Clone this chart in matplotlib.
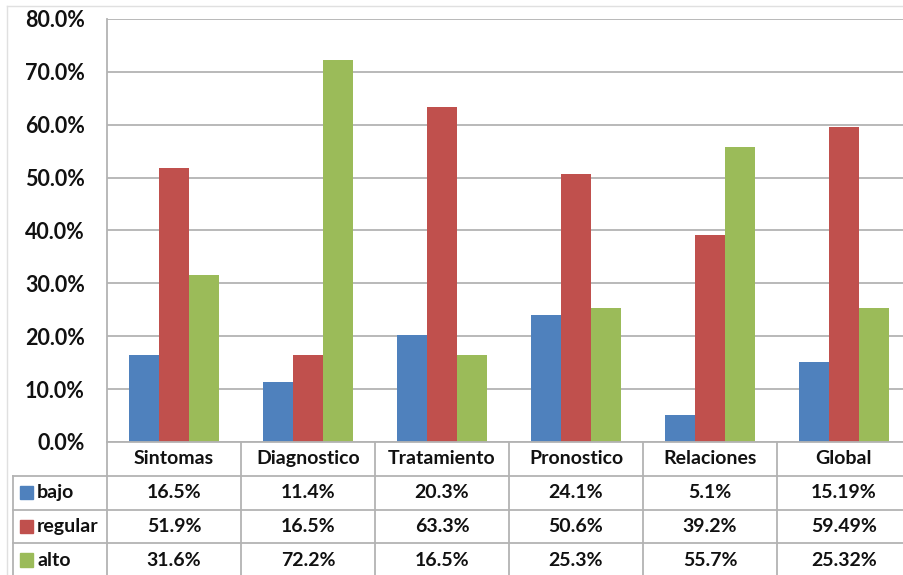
import numpy as np
import matplotlib.pyplot as plt
from matplotlib.patches import Rectangle

categories = ['Sintomas', 'Diagnostico', 'Tratamiento', 'Pronostico', 'Relaciones', 'Global']
series = ['bajo', 'regular', 'alto']
bajo = [16.5, 11.4, 20.3, 24.1, 5.1, 15.19]
regular = [51.9, 16.5, 63.3, 50.6, 39.2, 59.49]
alto = [31.6, 72.2, 16.5, 25.3, 55.7, 25.32]
decimals = [1, 1, 1, 1, 1, 2]
yticks = [0, 10, 20, 30, 40, 50, 60, 70, 80]

colors = ['#4F81BD', '#C0504D', '#9BBB59']
grid_c = '#b3b3b3'
txt_c = '#111111'
plt.rcParams['font.family'] = ['Lato', 'DejaVu Sans']
fs_tick = 15.5
fs = 14

W, H = 904, 575
fig = plt.figure(figsize=(W / 100, H / 100), dpi=100)

# pixel layout
x0, x1 = 107, 911
y_top, y_zero = 19, 442
tab_left = 13

ax = fig.add_axes([x0 / W, 1 - y_zero / H, (x1 - x0) / W, (y_zero - y_top) / H])
x = np.arange(len(categories))
bw = 0.224
for k, vals in enumerate([bajo, regular, alto]):
    ax.bar(x + (k - 1) * bw, vals, bw, color=colors[k], zorder=3)
ax.set_xlim(-0.5, len(categories) - 0.5)
ax.set_ylim(0, 80)
ax.set_yticks(yticks)
ax.set_yticklabels(['%.1f%%' % v for v in yticks], fontsize=fs_tick, fontweight='bold', color=txt_c)
ax.tick_params(axis='y', length=0, pad=16)
ax.set_xticks([])
ax.grid(axis='y', color=grid_c, lw=1.3, zorder=0)
for s in ['top', 'right', 'bottom']:
    ax.spines[s].set_visible(False)
ax.spines['left'].set_color(grid_c)
ax.spines['left'].set_linewidth(1.3)

# data table below the chart
tab = fig.add_axes([x0 / W, -2 / H, (x1 - x0) / W, (H - y_zero + 2) / H])
tab.set_xlim(-0.5, len(categories) - 0.5)
tab.set_ylim(4, 0)
tab.axis('off')
xl = -0.5 - (x0 - tab_left) / 134.0
lk = dict(color=grid_c, lw=1.3, clip_on=False)
tab.plot([-0.5, len(categories) - 0.5], [0, 0], **lk)
for r in [1, 2, 3]:
    tab.plot([xl, len(categories) - 0.5], [r, r], **lk)
tab.plot([xl, xl], [1, 4], **lk)
for b in np.arange(len(categories) + 1) - 0.5:
    tab.plot([b, b], [0, 4], **lk)

for i, c in enumerate(categories):
    tab.text(i, 0.5, c, ha='center', va='center', fontsize=fs, fontweight='bold', color=txt_c)
for k, vals in enumerate([bajo, regular, alto]):
    yc = k + 1.5
    for i, v in enumerate(vals):
        tab.text(i, yc, '%.*f%%' % (decimals[i], v), ha='center', va='center',
                 fontsize=fs, fontweight='bold', color=txt_c)
    tab.add_patch(Rectangle((xl + 7 / 134.0, yc - 0.2), 13 / 134.0, 0.4,
                            color=colors[k], clip_on=False))
    tab.text(xl + 24 / 134.0, yc, series[k], ha='left', va='center',
             fontsize=fs, fontweight='bold', color=txt_c, clip_on=False)

# faint chart border
fig.add_artist(plt.Line2D([7 / W, 1], [1 - 6 / H, 1 - 6 / H], color='#e0e0e0', lw=1))
fig.add_artist(plt.Line2D([7 / W, 7 / W], [0, 1 - 6 / H], color='#e0e0e0', lw=1))

fig.savefig('out.png', dpi=100)
